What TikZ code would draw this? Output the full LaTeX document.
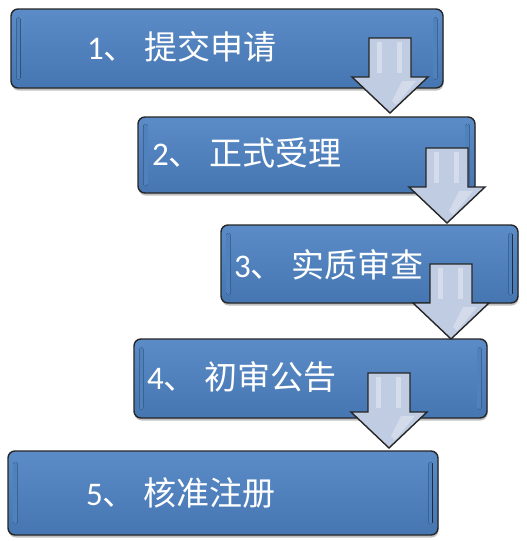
\documentclass[tikz,border=0pt]{standalone}
\usepackage{fontspec}
\newfontfamily\cjk{Noto Sans CJK SC}
\newfontfamily\latinf{Carlito}
\usetikzlibrary{shadows,calc}
\definecolor{boxblue}{HTML}{4F81BD}
\definecolor{boxtop}{HTML}{5B8CC8}
\definecolor{boxbot}{HTML}{4676B1}
\definecolor{bevel}{HTML}{DDF0FF}
\definecolor{arrside}{HTML}{C0CCE2}
\definecolor{arrmid}{HTML}{E4EAF4}
\definecolor{edge}{HTML}{262626}
\tikzset{
  stagebox/.style={draw=edge, line width=1.4pt, rounded corners=7pt,
    top color=boxtop, middle color=boxblue, bottom color=boxbot,
    drop shadow={shadow xshift=0.6pt, shadow yshift=-2.5pt, opacity=0.35, fill=black!70}},
  stagetext/.style={text=white, anchor=west, inner sep=0pt,
    font=\fontsize{33}{38}\selectfont},
  bevelbar/.style={top color=boxblue, middle color=bevel, bottom color=boxblue, rounded corners=1.5pt},
  arrowbody/.style={draw=edge, line width=1.4pt, line join=miter,
    left color=arrside, middle color=arrmid, right color=arrside},
  pics/downarrow/.style={code={
    \draw[arrowbody] (-21,-75) -- (21,-75) -- (21,-36) -- (38,-36) -- (0,0)
      -- (-38,-36) -- (-21,-36) -- cycle;
    \fill[white, opacity=0.35] (-13,-71) rectangle (-8,-40);
    \fill[white, opacity=0.35] (7,-71) rectangle (12,-40);
    \fill[white, opacity=0.3] (12,-32) -- (26,-32) -- (6,-8) -- (2,-12) -- cycle;
  }}
}
\newcommand{\bevels}[1]{%
  \fill[bevelbar] ($(#1.west)+(6,-31)$) rectangle ($(#1.west)+(10,31)$);
  \fill[bevelbar] ($(#1.east)+(-10,-31)$) rectangle ($(#1.east)+(-6,31)$);
}
\newcommand{\stagelabel}[2]{{\latinf #1}\cjk 、\hspace{8pt}#2}
\begin{document}
\begin{tikzpicture}[x=1pt,y=-1pt]
\fill[white] (0,0) rectangle (527,541);
\useasboundingbox (0,0) rectangle (527,541);

\node[stagebox, minimum width=432pt, minimum height=79pt] (b1) at (227,48.5) {};
\node[stagebox, minimum width=337pt, minimum height=76pt] (b2) at (306.5,155) {};
\node[stagebox, minimum width=297pt, minimum height=78pt] (b3) at (369.5,264) {};
\node[stagebox, minimum width=353pt, minimum height=79pt] (b4) at (310.5,378.5) {};
\node[stagebox, minimum width=430pt, minimum height=84pt] (b5) at (223,493) {};

\bevels{b1}
\bevels{b2}
\bevels{b3}
\bevels{b4}
\bevels{b5}

\node[stagetext] (t1) at (87,47) {\stagelabel{1}{提交申请}};
\node[stagetext] (t2) at (152,153) {\stagelabel{2}{正式受理}};
\node[stagetext] (t3) at (234,265) {\stagelabel{3}{实质审查}};
\node[stagetext] (t4) at (147,377) {\stagelabel{4}{初审公告}};
\node[stagetext] (t5) at (86,493) {\stagelabel{5}{核准注册}};

\coordinate (tip1) at (390,113);
\coordinate (tip2) at (447,223);
\coordinate (tip3) at (451,339);
\coordinate (tip4) at (389,448);
\pic at (tip1) {downarrow};
\pic at (tip2) {downarrow};
\pic at (tip3) {downarrow};
\pic at (tip4) {downarrow};
\end{tikzpicture}
\end{document}
